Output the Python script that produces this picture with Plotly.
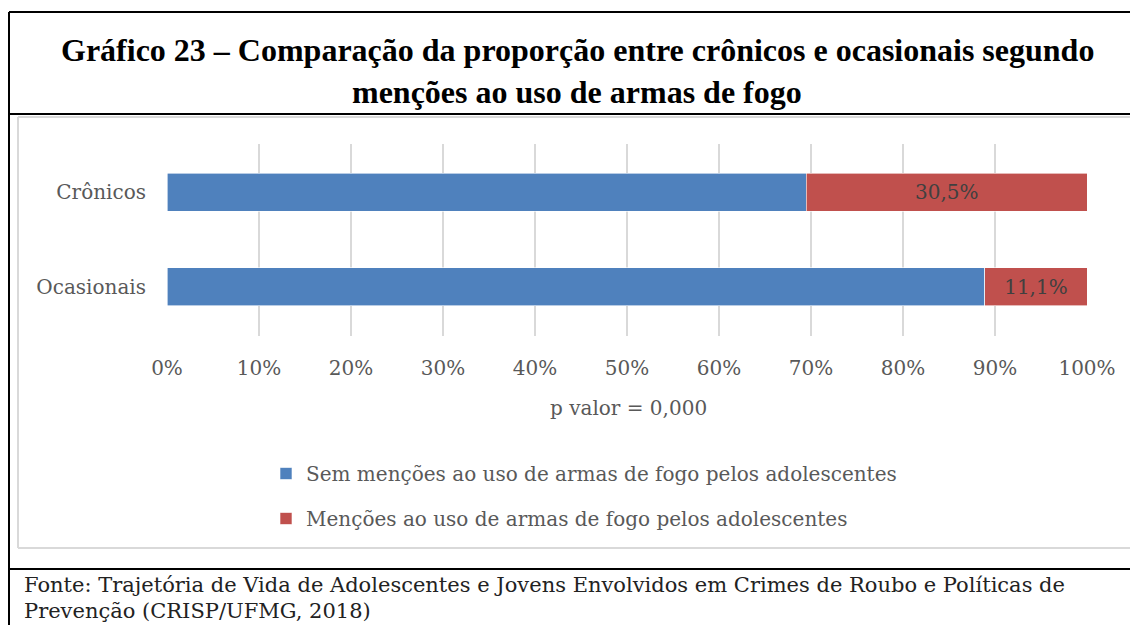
import plotly.graph_objects as go

# ---- data ----
categories = ["Ocasionais", "Crônicos"]
series_names = [
    "Sem menções ao uso de armas de fogo pelos adolescentes",
    "Menções ao uso de armas de fogo pelos adolescentes",
]
sem_mencoes = [88.9, 69.5]
mencoes = [11.1, 30.5]
x_ticks = [0, 10, 20, 30, 40, 50, 60, 70, 80, 90, 100]
x_tick_labels = [f"{t}%" for t in x_ticks]
title_lines = [
    "Gráfico 23 – Comparação da proporção entre crônicos e ocasionais segundo",
    "menções ao uso de armas de fogo",
]
axis_note = "p valor = 0,000"
source_lines = [
    "Fonte: Trajetória de Vida de Adolescentes e Jovens Envolvidos em Crimes de Roubo e Políticas de",
    "Prevenção (CRISP/UFMG, 2018)",
]

W, H = 1130, 625
BLUE = "#4F81BD"
RED = "#C0504D"
GREY_TXT = "#595959"
AX_FONT = "DejaVu Serif"


def px(x):
    return x / W


def py(y):
    return 1 - y / H


fig = go.Figure()
fig.add_trace(go.Bar(
    y=categories, x=sem_mencoes, orientation="h", name=series_names[0],
    marker=dict(color=BLUE, line=dict(color="white", width=0.6)),
    legendgroup="a", hoverinfo="skip",
))
fig.add_trace(go.Bar(
    y=categories, x=mencoes, orientation="h", name=series_names[1],
    marker=dict(color=RED, line=dict(color="white", width=0.6)),
    text=[f"{v:.1f}%".replace(".", ",") for v in mencoes],
    textposition="inside", insidetextanchor="middle",
    textfont=dict(family=AX_FONT, size=20, color="#404040"),
    legendgroup="b", hoverinfo="skip",
))


def hline(x0, x1, y, line):
    return dict(type="line", xref="paper", yref="paper", x0=px(x0), x1=px(x1), y0=py(y), y1=py(y), line=line)


def vline(x, y0, y1, line):
    return dict(type="line", xref="paper", yref="paper", x0=px(x), x1=px(x), y0=py(y0), y1=py(y1), line=line)


black = dict(color="black", width=2)
grey = dict(color="#D9D9D9", width=2)
shapes = [
    # grey inner chart frame (open on the right, running off the page)
    hline(18, 1131, 117, grey),
    hline(18, 1131, 548, grey),
    vline(18, 117, 548, grey),
    # black document frame
    vline(9, 12, 626, black),
    hline(9, 1131, 12, black),
    hline(9, 1131, 114, black),
    hline(9, 1131, 569, black),
]

annotations = []
for i, line in enumerate(title_lines):
    annotations.append(dict(
        text=f"<b>{line}</b>", xref="paper", yref="paper", x=px(577), y=py([50, 92][i]),
        xanchor="center", yanchor="middle", showarrow=False,
        font=dict(family="Liberation Serif", size=32, color="black"),
    ))
annotations.append(dict(
    text=axis_note, xref="paper", yref="paper", x=px(628), y=py(408),
    xanchor="center", yanchor="middle", showarrow=False,
    font=dict(family=AX_FONT, size=20, color=GREY_TXT),
))
for i, line in enumerate(source_lines):
    annotations.append(dict(
        text=line, xref="paper", yref="paper", x=px(22), y=py([585, 611][i]),
        xanchor="left", yanchor="middle", showarrow=False,
        font=dict(family=AX_FONT, size=21, color="#222222"),
    ))

fig.update_layout(
    template="none",
    width=W, height=H,
    margin=dict(l=0, r=0, t=0, b=0, autoexpand=False),
    paper_bgcolor="white", plot_bgcolor="white",
    barmode="stack", bargap=0.6,
    showlegend=True,
    legend=dict(
        x=px(266), y=py(496), xanchor="left", yanchor="middle",
        orientation="v", traceorder="grouped", tracegroupgap=16,
        font=dict(family=AX_FONT, size=20, color=GREY_TXT),
        bgcolor="rgba(0,0,0,0)", itemwidth=30,
    ),
    xaxis=dict(
        domain=[px(167), px(1087)], range=[0, 100],
        tickvals=x_ticks, ticktext=x_tick_labels,
        showgrid=True, gridcolor="#D9D9D9", gridwidth=2,
        zeroline=False, showline=False, ticks="", automargin=False,
        tickfont=dict(family=AX_FONT, size=20, color=GREY_TXT),
        ticklabelstandoff=18, fixedrange=True,
    ),
    yaxis=dict(
        domain=[py(336), py(144)], range=[-0.52, 1.51],
        categoryorder="array", categoryarray=categories,
        showgrid=False, zeroline=False, showline=False, ticks="", automargin=False,
        tickfont=dict(family=AX_FONT, size=20, color=GREY_TXT),
        ticklabelstandoff=20, fixedrange=True,
    ),
    shapes=shapes,
    annotations=annotations,
    uniformtext=dict(minsize=20, mode="show"),
)

page_css = (
    "document.documentElement.style.margin='0';"
    "document.documentElement.style.overflow='hidden';"
    "document.body.style.margin='0';"
    "document.body.style.overflow='hidden';"
)

fig.write_html("out.html", config={"displayModeBar": False}, post_script=page_css)
